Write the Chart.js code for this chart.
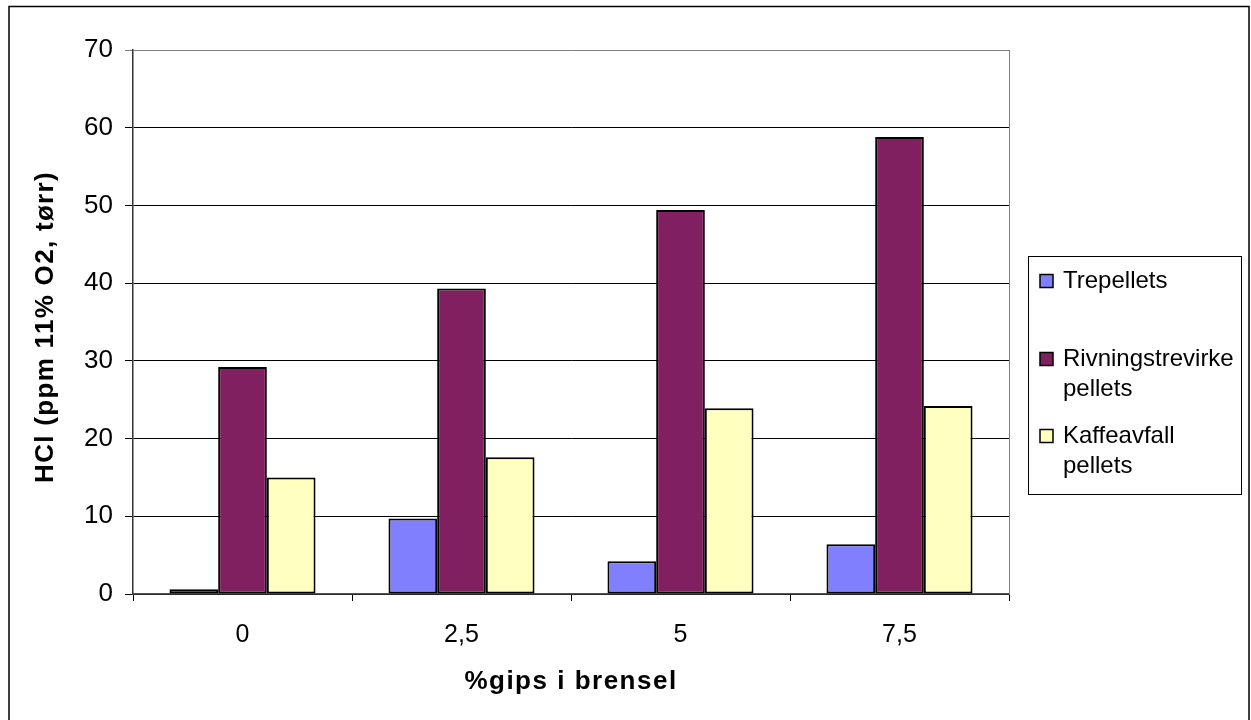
<!DOCTYPE html>
<html>
<head>
<meta charset="utf-8">
<script src="https://cdn.jsdelivr.net/npm/chart.js@4/dist/chart.umd.min.js"></script>
<style>
  html, body { margin: 0; padding: 0; background: #fff; }
  #wrap { width: 1251px; height: 720px; position: relative; }
</style>
</head>
<body>
<div id="wrap"><canvas id="c" width="1251" height="720"></canvas></div>
<script>
// Gypsum share in the fuel (x categories)
const categories = ['0', '2,5', '5', '7,5'];

// HCl emissions, ppm at 11% O2, dry
const trepellets = [0.6, 9.7, 4.2, 6.4];
const rivningstrevirke = [29.2, 39.3, 49.4, 58.8];
const kaffeavfall = [15.0, 17.6, 23.9, 24.2];

// Legend text, one entry per series (multi-line)
const seriesNames = [
  ['Trepellets'],
  ['Rivningstrevirke', 'pellets'],
  ['Kaffeavfall', 'pellets']
];

const yTitle = 'HCl (ppm 11% O2, tørr)';
const xTitle = '%gips i brensel';

const FONT = '"Liberation Sans", Arial, sans-serif';
const colors = ['#8080FF', '#802060', '#FFFFC0'];

// Frame around the figure, plot right edge, spaced axis titles and boxed legend
const framePlugin = {
  id: 'frame',
  afterDraw(chart) {
    const ctx = chart.ctx;
    const a = chart.chartArea;
    ctx.save();
    // plot area right edge
    ctx.strokeStyle = '#808080';
    ctx.lineWidth = 1;
    ctx.beginPath();
    ctx.moveTo(Math.round(a.right) + 0.5, a.top);
    ctx.lineTo(Math.round(a.right) + 0.5, a.bottom);
    ctx.stroke();
    // outer frame
    ctx.strokeStyle = '#000';
    ctx.lineWidth = 1.5;
    ctx.strokeRect(9, 6.5, 1240, 720);

    // axis titles (bold, slightly tracked)
    ctx.fillStyle = '#000';
    ctx.font = 'bold 26px ' + FONT;
    ctx.textBaseline = 'alphabetic';
    ctx.textAlign = 'center';
    ctx.letterSpacing = '1.5px';
    ctx.fillText(xTitle, (a.left + a.right) / 2, 689);
    ctx.save();
    ctx.translate(53, (a.top + a.bottom) / 2 + 5);
    ctx.rotate(-Math.PI / 2);
    ctx.letterSpacing = '1.3px';
    ctx.fillText(yTitle, 0, 0);
    ctx.restore();
    ctx.letterSpacing = '0px';

    // legend box
    ctx.strokeStyle = '#000';
    ctx.lineWidth = 1;
    ctx.strokeRect(1028.5, 256.5, 213, 238);
    const squares = [281, 359, 436];
    const lineGap = 30;
    ctx.font = '24px ' + FONT;
    ctx.textBaseline = 'middle';
    ctx.textAlign = 'left';
    chart.data.datasets.forEach((ds, i) => {
      const cy = squares[i];
      ctx.fillStyle = ds.backgroundColor;
      ctx.fillRect(1040, cy - 6.5, 13, 13);
      ctx.strokeStyle = '#000';
      ctx.lineWidth = 1.5;
      ctx.strokeRect(1040, cy - 6.5, 13, 13);
      ctx.fillStyle = '#000';
      seriesNames[i].forEach((line, k) => {
        ctx.fillText(line, 1063, cy + k * lineGap);
      });
    });
    ctx.restore();
  }
};

new Chart(document.getElementById('c'), {
  type: 'bar',
  data: {
    labels: categories,
    datasets: [
      { label: seriesNames[0].join(' '), data: trepellets, backgroundColor: colors[0] },
      { label: seriesNames[1].join(' '), data: rivningstrevirke, backgroundColor: colors[1] },
      { label: seriesNames[2].join(' '), data: kaffeavfall, backgroundColor: colors[2] }
    ].map(d => Object.assign(d, {
      borderColor: '#000',
      borderWidth: 2,
      borderSkipped: false,
      categoryPercentage: 0.667,
      barPercentage: 1
    }))
  },
  options: {
    responsive: false,
    animation: false,
    events: [],
    layout: { padding: { left: 0, top: 50, right: 242, bottom: 0 } },
    plugins: {
      legend: { display: false },
      tooltip: { enabled: false }
    },
    scales: {
      x: {
        offset: true,
        grid: { display: true, drawOnChartArea: false, offset: true, tickLength: 7, color: '#000', lineWidth: 1 },
        border: { display: true, color: '#555', width: 1.5 },
        ticks: { color: '#000', font: { family: FONT, size: 25 }, padding: 19, maxRotation: 0 },
        title: { display: false },
        afterFit(s) { s.height = 126; }
      },
      y: {
        min: 0,
        max: 70,
        ticks: { stepSize: 10, color: '#000', font: { family: FONT, size: 26 }, padding: 12 },
        grid: {
          tickLength: 8,
          lineWidth: 1,
          color: c => (c.tick && c.tick.value === 70) ? '#808080' : '#000'
        },
        border: { display: true, color: '#333', width: 1.5 },
        title: { display: false },
        afterFit(s) { s.width = 133; }
      }
    }
  },
  plugins: [framePlugin]
});
</script>
</body>
</html>
